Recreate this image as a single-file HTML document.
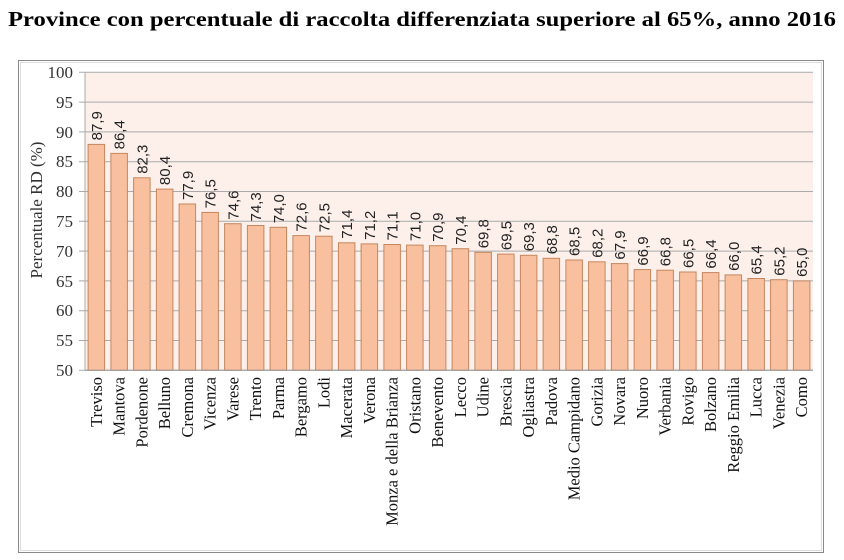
<!DOCTYPE html>
<html><head><meta charset="utf-8"><style>
html,body{margin:0;padding:0;background:#fff;}
svg{display:block;}
.v{font-family:"Liberation Sans",sans-serif;font-size:15px;fill:#222;}
.c{font-family:"Liberation Serif",serif;font-size:16.5px;fill:#111;}
.t{font-family:"Liberation Serif",serif;font-size:17px;fill:#333;}
rect.b{fill:#f9c0a0;stroke:#c4865e;stroke-width:1;}
</style></head><body>
<svg width="844" height="560" viewBox="0 0 844 560" xmlns="http://www.w3.org/2000/svg">
<text x="8" y="26" font-family="Liberation Serif,serif" font-weight="bold" font-size="21" textLength="828" lengthAdjust="spacingAndGlyphs" fill="#000">Province con percentuale di raccolta differenziata superiore al 65%, anno 2016</text>
<rect x="18.5" y="60.5" width="805" height="492" fill="#fff" stroke="#888" stroke-width="1"/>
<rect x="20.5" y="62.5" width="801" height="488" fill="none" stroke="#ddd" stroke-width="1"/>
<rect x="85" y="72.3" width="728" height="298" fill="#fdf0eb"/>
<g stroke="#aaa" stroke-width="1">
<line x1="79" x2="813" y1="72.3" y2="72.3"/>
<line x1="79" x2="813" y1="102.1" y2="102.1"/>
<line x1="79" x2="813" y1="131.9" y2="131.9"/>
<line x1="79" x2="813" y1="161.7" y2="161.7"/>
<line x1="79" x2="813" y1="191.5" y2="191.5"/>
<line x1="79" x2="813" y1="221.3" y2="221.3"/>
<line x1="79" x2="813" y1="251.1" y2="251.1"/>
<line x1="79" x2="813" y1="280.9" y2="280.9"/>
<line x1="79" x2="813" y1="310.7" y2="310.7"/>
<line x1="79" x2="813" y1="340.5" y2="340.5"/>
<line x1="79" x2="813" y1="370.3" y2="370.3"/>
<line x1="85" x2="85" y1="72.3" y2="370.3"/>
</g>
<g class="t" text-anchor="end">
<text x="73" y="78">100</text><text x="73" y="108">95</text><text x="73" y="138">90</text><text x="73" y="167">85</text><text x="73" y="197">80</text><text x="73" y="227">75</text><text x="73" y="257">70</text><text x="73" y="287">65</text><text x="73" y="316">60</text><text x="73" y="346">55</text><text x="73" y="376">50</text>
</g>
<text class="t" font-size="16.5" text-anchor="middle" transform="translate(42,210) rotate(-90)">Percentuale RD (%)</text>
<g>
<rect class="b" x="88.1" y="144.4" width="16.5" height="225.9"/>
<rect class="b" x="110.9" y="153.4" width="16.5" height="216.9"/>
<rect class="b" x="133.6" y="177.8" width="16.5" height="192.5"/>
<rect class="b" x="156.4" y="189.1" width="16.5" height="181.2"/>
<rect class="b" x="179.1" y="204.0" width="16.5" height="166.3"/>
<rect class="b" x="201.9" y="212.4" width="16.5" height="157.9"/>
<rect class="b" x="224.6" y="223.7" width="16.5" height="146.6"/>
<rect class="b" x="247.4" y="225.5" width="16.5" height="144.8"/>
<rect class="b" x="270.1" y="227.3" width="16.5" height="143.0"/>
<rect class="b" x="292.9" y="235.6" width="16.5" height="134.7"/>
<rect class="b" x="315.6" y="236.2" width="16.5" height="134.1"/>
<rect class="b" x="338.4" y="242.8" width="16.5" height="127.5"/>
<rect class="b" x="361.1" y="243.9" width="16.5" height="126.4"/>
<rect class="b" x="383.9" y="244.5" width="16.5" height="125.8"/>
<rect class="b" x="406.6" y="245.1" width="16.5" height="125.2"/>
<rect class="b" x="429.4" y="245.7" width="16.5" height="124.6"/>
<rect class="b" x="452.1" y="248.7" width="16.5" height="121.6"/>
<rect class="b" x="474.9" y="252.3" width="16.5" height="118.0"/>
<rect class="b" x="497.6" y="254.1" width="16.5" height="116.2"/>
<rect class="b" x="520.4" y="255.3" width="16.5" height="115.0"/>
<rect class="b" x="543.1" y="258.3" width="16.5" height="112.0"/>
<rect class="b" x="565.9" y="260.0" width="16.5" height="110.3"/>
<rect class="b" x="588.6" y="261.8" width="16.5" height="108.5"/>
<rect class="b" x="611.4" y="263.6" width="16.5" height="106.7"/>
<rect class="b" x="634.1" y="269.6" width="16.5" height="100.7"/>
<rect class="b" x="656.9" y="270.2" width="16.5" height="100.1"/>
<rect class="b" x="679.6" y="272.0" width="16.5" height="98.3"/>
<rect class="b" x="702.4" y="272.6" width="16.5" height="97.7"/>
<rect class="b" x="725.1" y="274.9" width="16.5" height="95.4"/>
<rect class="b" x="747.9" y="278.5" width="16.5" height="91.8"/>
<rect class="b" x="770.6" y="279.7" width="16.5" height="90.6"/>
<rect class="b" x="793.4" y="280.9" width="16.5" height="89.4"/>
</g>
<g stroke="#999" stroke-width="1">
<line x1="85" x2="813" y1="370.3" y2="370.3"/>
</g>
<g class="v">
<text transform="translate(102,140.4) rotate(-90)">87,9</text>
<text transform="translate(124.7,149.4) rotate(-90)">86,4</text>
<text transform="translate(147.5,173.8) rotate(-90)">82,3</text>
<text transform="translate(170.2,185.1) rotate(-90)">80,4</text>
<text transform="translate(193,200.0) rotate(-90)">77,9</text>
<text transform="translate(215.7,208.4) rotate(-90)">76,5</text>
<text transform="translate(238.5,219.7) rotate(-90)">74,6</text>
<text transform="translate(261.2,221.5) rotate(-90)">74,3</text>
<text transform="translate(284,223.3) rotate(-90)">74,0</text>
<text transform="translate(306.7,231.6) rotate(-90)">72,6</text>
<text transform="translate(329.5,232.2) rotate(-90)">72,5</text>
<text transform="translate(352.2,238.8) rotate(-90)">71,4</text>
<text transform="translate(375,239.9) rotate(-90)">71,2</text>
<text transform="translate(397.7,240.5) rotate(-90)">71,1</text>
<text transform="translate(420.5,241.1) rotate(-90)">71,0</text>
<text transform="translate(443.2,241.7) rotate(-90)">70,9</text>
<text transform="translate(466,244.7) rotate(-90)">70,4</text>
<text transform="translate(488.7,248.3) rotate(-90)">69,8</text>
<text transform="translate(511.5,250.1) rotate(-90)">69,5</text>
<text transform="translate(534.2,251.3) rotate(-90)">69,3</text>
<text transform="translate(557,254.3) rotate(-90)">68,8</text>
<text transform="translate(579.7,256.0) rotate(-90)">68,5</text>
<text transform="translate(602.5,257.8) rotate(-90)">68,2</text>
<text transform="translate(625.2,259.6) rotate(-90)">67,9</text>
<text transform="translate(648,265.6) rotate(-90)">66,9</text>
<text transform="translate(670.7,266.2) rotate(-90)">66,8</text>
<text transform="translate(693.5,268.0) rotate(-90)">66,5</text>
<text transform="translate(716.2,268.6) rotate(-90)">66,4</text>
<text transform="translate(739,270.9) rotate(-90)">66,0</text>
<text transform="translate(761.7,274.5) rotate(-90)">65,4</text>
<text transform="translate(784.5,275.7) rotate(-90)">65,2</text>
<text transform="translate(807.2,276.9) rotate(-90)">65,0</text>
</g>
<g class="c" text-anchor="end">
<text transform="translate(102,377) rotate(-90)">Treviso</text>
<text transform="translate(124.7,377) rotate(-90)">Mantova</text>
<text transform="translate(147.5,377) rotate(-90)">Pordenone</text>
<text transform="translate(170.2,377) rotate(-90)">Belluno</text>
<text transform="translate(193,377) rotate(-90)">Cremona</text>
<text transform="translate(215.7,377) rotate(-90)">Vicenza</text>
<text transform="translate(238.5,377) rotate(-90)">Varese</text>
<text transform="translate(261.2,377) rotate(-90)">Trento</text>
<text transform="translate(284,377) rotate(-90)">Parma</text>
<text transform="translate(306.7,377) rotate(-90)">Bergamo</text>
<text transform="translate(329.5,377) rotate(-90)">Lodi</text>
<text transform="translate(352.2,377) rotate(-90)">Macerata</text>
<text transform="translate(375,377) rotate(-90)">Verona</text>
<text transform="translate(397.7,377) rotate(-90)">Monza e della Brianza</text>
<text transform="translate(420.5,377) rotate(-90)">Oristano</text>
<text transform="translate(443.2,377) rotate(-90)">Benevento</text>
<text transform="translate(466,377) rotate(-90)">Lecco</text>
<text transform="translate(488.7,377) rotate(-90)">Udine</text>
<text transform="translate(511.5,377) rotate(-90)">Brescia</text>
<text transform="translate(534.2,377) rotate(-90)">Ogliastra</text>
<text transform="translate(557,377) rotate(-90)">Padova</text>
<text transform="translate(579.7,377) rotate(-90)">Medio Campidano</text>
<text transform="translate(602.5,377) rotate(-90)">Gorizia</text>
<text transform="translate(625.2,377) rotate(-90)">Novara</text>
<text transform="translate(648,377) rotate(-90)">Nuoro</text>
<text transform="translate(670.7,377) rotate(-90)">Verbania</text>
<text transform="translate(693.5,377) rotate(-90)">Rovigo</text>
<text transform="translate(716.2,377) rotate(-90)">Bolzano</text>
<text transform="translate(739,377) rotate(-90)">Reggio Emilia</text>
<text transform="translate(761.7,377) rotate(-90)">Lucca</text>
<text transform="translate(784.5,377) rotate(-90)">Venezia</text>
<text transform="translate(807.2,377) rotate(-90)">Como</text>
</g>
</svg>
</body></html>
